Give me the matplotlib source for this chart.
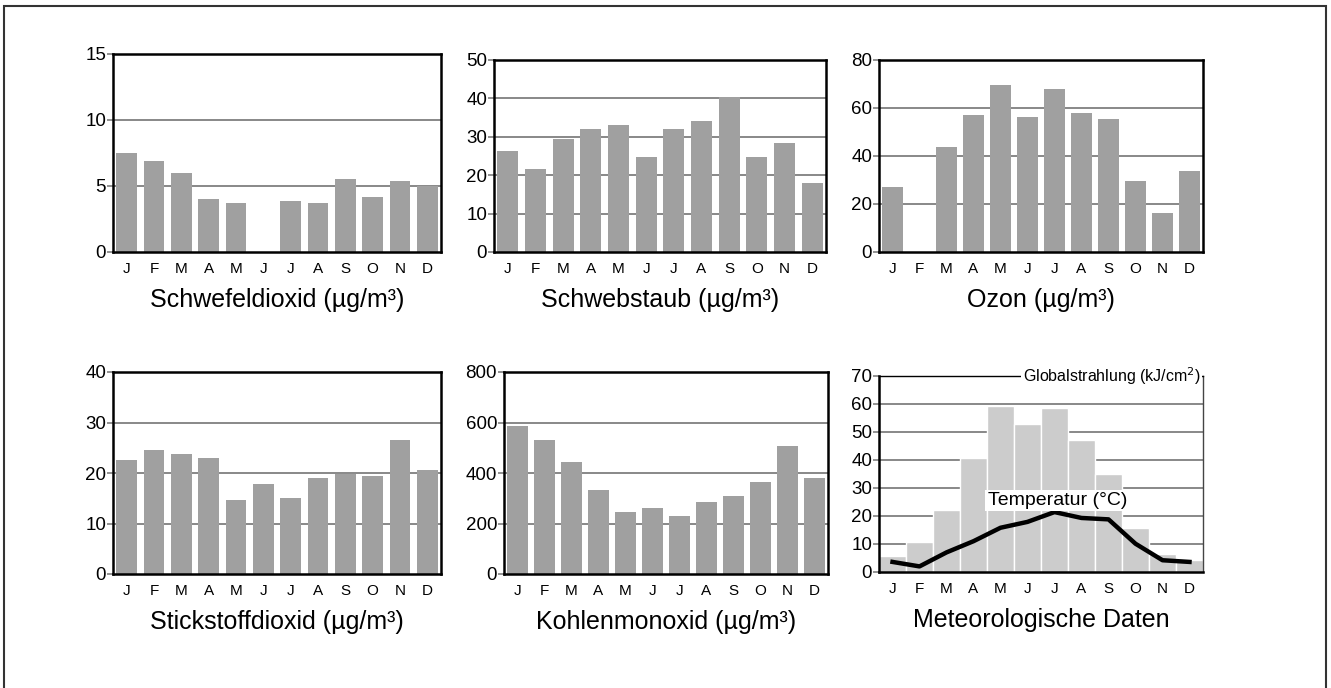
import matplotlib
matplotlib.use("Agg")
import matplotlib.pyplot as plt
from matplotlib.patches import Rectangle
import numpy as np

plt.rcParams['font.family'] = ['Liberation Sans', 'DejaVu Sans']

months = ["J", "F", "M", "A", "M", "J", "J", "A", "S", "O", "N", "D"]

schwefeldioxid = [7.5, 6.9, 6.0, 4.0, 3.7, np.nan, 3.85, 3.7, 5.5, 4.15, 5.35, 5.0]
schwebstaub = [26.3, 21.6, 29.4, 32.0, 33.0, 24.7, 32.0, 34.1, 40.3, 24.7, 28.3, 17.9]
ozon = [27.0, np.nan, 43.7, 57.0, 69.6, 56.2, 67.9, 57.9, 55.4, 29.5, 16.1, 33.7]
stickstoffdioxid = [22.5, 24.5, 23.7, 22.9, 14.6, 17.8, 15.0, 19.0, 19.8, 19.4, 26.5, 20.6]
kohlenmonoxid = [585, 530, 443, 332, 245, 261, 229, 285, 308, 364, 506, 380]
globalstrahlung = [5.6, 10.6, 22.0, 40.6, 59.2, 52.7, 58.5, 47.0, 34.9, 15.6, 6.3, 4.2]
temperatur = [3.6, 2.0, 7.0, 11.0, 15.8, 17.9, 21.4, 19.3, 18.8, 10.1, 4.2, 3.6]

panels = [
    ("Schwefeldioxid (µg/m³)", schwefeldioxid, 15, 5),
    ("Schwebstaub (µg/m³)", schwebstaub, 50, 10),
    ("Ozon (µg/m³)", ozon, 80, 20),
    ("Stickstoffdioxid (µg/m³)", stickstoffdioxid, 40, 10),
    ("Kohlenmonoxid (µg/m³)", kohlenmonoxid, 800, 200),
]

W, H = 1331, 688
fig = plt.figure(figsize=(W / 100, H / 100), dpi=100)

# axes boxes in pixels: left, right, top, bottom
boxes = [
    (113, 441, 54, 252),
    (494, 826, 60, 252),
    (879, 1203, 60, 252),
    (113, 441, 372, 574),
    (504, 828, 372, 574),
    (879, 1203, 376, 572),
]

BAR = "#a0a0a0"
GRID = "#7f7f7f"
x = np.arange(12)


def make_axes(box):
    l, r, t, b = box
    return fig.add_axes([l / W, 1 - b / H, (r - l) / W, (b - t) / H])


def style(ax, ymax, step):
    ax.set_xlim(-0.5, 11.5)
    ax.set_ylim(0, ymax)
    ax.set_yticks(np.arange(0, ymax + step / 2, step))
    ax.set_xticks(x)
    ax.set_xticklabels(months, fontsize=11)
    ax.tick_params(axis="x", length=0, pad=7)
    ax.tick_params(axis="y", length=4, width=1.2, color=GRID, labelsize=13.5, pad=1)
    for gy in ax.get_yticks()[1:]:
        if gy < ymax:
            ax.axhline(gy, color=GRID, lw=1.3, zorder=1)
    for s in ax.spines.values():
        s.set_linewidth(1.8)
        s.set_color("black")
        s.set_zorder(4)


for (title, vals, ymax, step), box in zip(panels, boxes[:5]):
    ax = make_axes(box)
    ax.bar(x, vals, width=0.76, color=BAR, zorder=2)
    style(ax, ymax, step)
    ax.set_xlabel(title, fontsize=18, labelpad=9)

# meteorological panel
ax = make_axes(boxes[5])
ax.bar(x, globalstrahlung, width=1.0, color="#cccccc", edgecolor="white",
       linewidth=1.0, zorder=2)
style(ax, 70, 10)
ax.spines["top"].set_linewidth(1.0)
ax.spines["right"].set_linewidth(1.0)
ax.spines["right"].set_color("#444444")
ax.plot(x, temperatur, color="black", lw=3.2, zorder=5, solid_joinstyle="round")
ax.text(6.1, 25.5, "Temperatur (°C)", fontsize=14, ha="center", va="center",
        zorder=6, bbox=dict(facecolor="white", edgecolor="none", pad=1.5))
ax.text(11.4, 70, "Globalstrahlung (kJ/cm$^2$)", fontsize=11.5, ha="right",
        va="center", zorder=6,
        bbox=dict(facecolor="white", edgecolor="none", pad=1.0))
ax.set_xlabel("Meteorologische Daten", fontsize=18, labelpad=9)

# outer frame
fig.add_artist(Rectangle((4 / W, -0.02), (1326 - 4) / W, 1 - 6 / H + 0.02,
                         transform=fig.transFigure, fill=False,
                         edgecolor="#333333", linewidth=1.5))

fig.savefig("out.png", dpi=100)
